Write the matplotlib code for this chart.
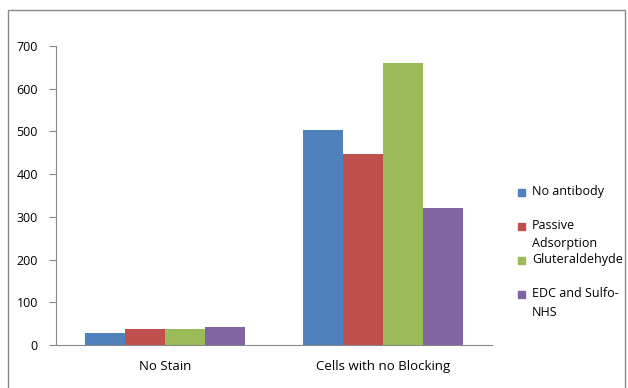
import matplotlib.pyplot as plt
import matplotlib.patches as mpatches
import numpy as np

categories = ['No Stain', 'Cells with no Blocking']
series = ['No antibody', 'Passive\nAdsorption', 'Gluteraldehyde', 'EDC and Sulfo-\nNHS']
no_antibody = [28, 503]
passive = [37, 447]
gluteraldehyde = [37, 660]
edc_nhs = [42, 321]
colors = ['#4F81BD', '#C0504D', '#9BBB59', '#8064A2']

plt.rcParams['font.family'] = ['Open Sans', 'DejaVu Sans']

fig = plt.figure(figsize=(6.28, 3.88), dpi=100)
# outer chart border
fig.patches.append(mpatches.Rectangle((8/628, -0.01), 617/628, 1 - 10/388 + 0.01,
                                      transform=fig.transFigure, fill=False,
                                      edgecolor='#888888', linewidth=1))

ax = fig.add_axes([56/628, 1 - 345/388, 436/628, 299/388])

x = np.arange(len(categories))
width = 0.1835
values = [no_antibody, passive, gluteraldehyde, edc_nhs]
for i, vals in enumerate(values):
    ax.bar(x + (i - 1.5) * width, vals, width, color=colors[i])

ax.set_xlim(-0.5, 1.5)
ax.set_ylim(0, 700)
ax.set_yticks(range(0, 701, 100))
ax.set_xticks(x)
ax.set_xticklabels(categories, fontsize=9.5)
ax.tick_params(axis='x', length=0, pad=11)
ax.tick_params(axis='y', length=5, color='#888888', labelsize=9, pad=8)
for s in ['top', 'right']:
    ax.spines[s].set_visible(False)
for s in ['left', 'bottom']:
    ax.spines[s].set_color('#888888')

# legend on the right
legend_y = [192, 226, 260, 294]
for lbl, col, yy in zip(series, colors, legend_y):
    fig.patches.append(mpatches.Rectangle((518/628, 1 - (yy + 4) / 388), 7/628, 7/388,
                                          transform=fig.transFigure, color=col))
    fig.text(532/628, 1 - (yy - 7) / 388, lbl, fontsize=9, va='top', ha='left',
             linespacing=1.55)

fig.savefig('out.png', dpi=100)
